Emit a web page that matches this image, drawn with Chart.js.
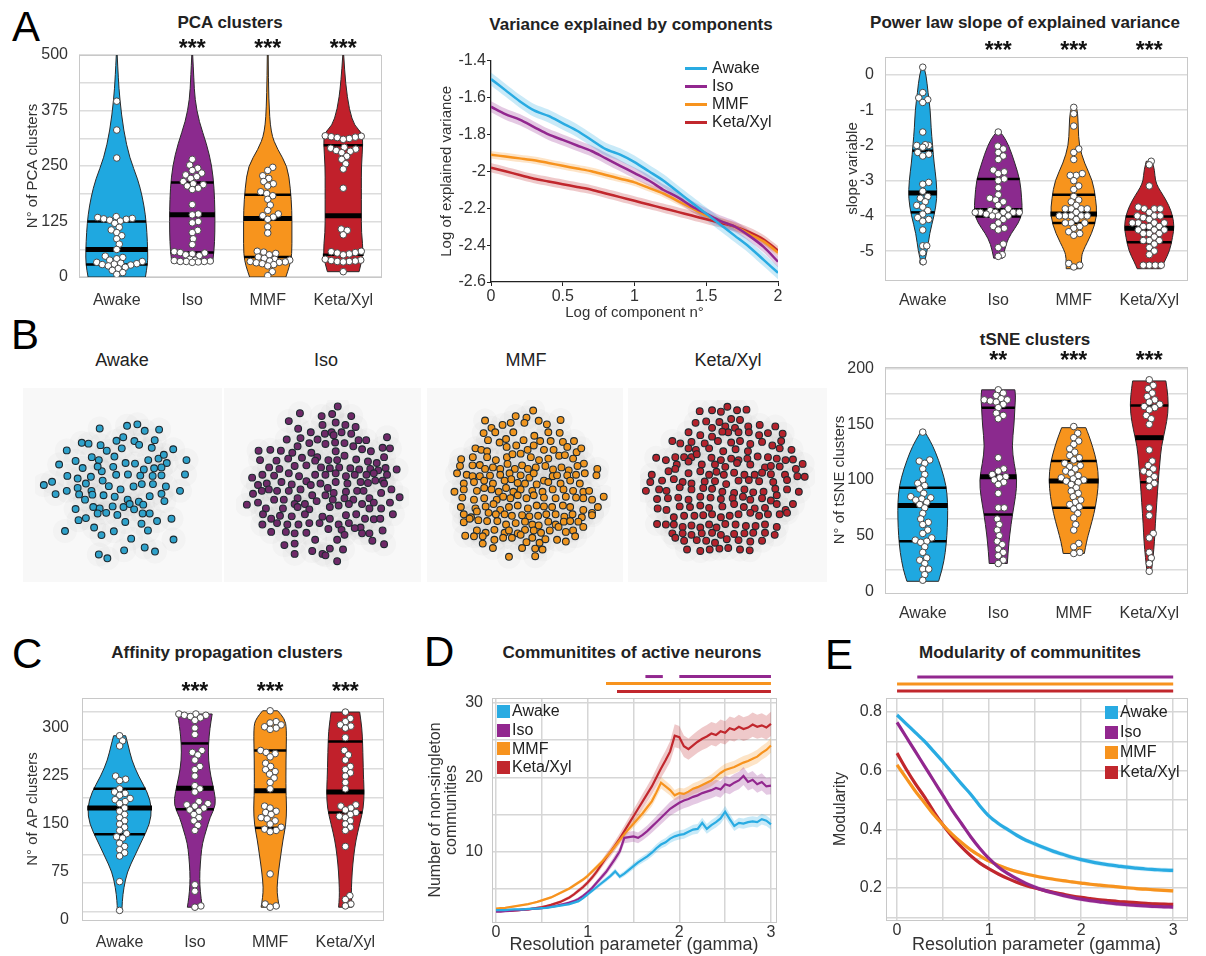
<!DOCTYPE html>
<html>
<head>
<meta charset="utf-8">
<title>Clusters and communities</title>
<script src="https://cdn.jsdelivr.net/npm/chart.js@4.4.1/dist/chart.umd.min.js"></script>
<style>
  body { margin: 0; background: #fff; font-family: 'Liberation Sans', Arial, sans-serif; }
  #fig { position: relative; width: 1206px; height: 956px; overflow: hidden; background: #fff; }
  #fig canvas { position: absolute; }
  .letter { position: absolute; font-size: 42px; line-height: 1; color: #000; }
  .ttl { position: absolute; font-size: 17px; font-weight: bold; color: #222; white-space: nowrap; transform: translate(-50%, -50%); }
  .sub { position: absolute; font-size: 18px; color: #222; white-space: nowrap; transform: translate(-50%, -50%); }
  .leg { position: absolute; font-size: 16px; color: #222; }
  .leg div { display: flex; align-items: center; white-space: nowrap; }
  canvas.tsne { background: #f8f8f8; }
</style>
</head>
<body>
<div id="fig">
  <div class="letter" style="left:12px;top:6px">A</div>
  <div class="letter" style="left:11px;top:314px">B</div>
  <div class="letter" style="left:12px;top:633px">C</div>
  <div class="letter" style="left:424px;top:631px">D</div>
  <div class="letter" style="left:825px;top:634px">E</div>

  <div class="ttl" style="left:230px;top:23px">PCA clusters</div>
  <div class="ttl" style="left:631px;top:25px">Variance explained by components</div>
  <div class="ttl" style="left:1025px;top:23px">Power law slope of explained variance</div>
  <div class="ttl" style="left:1035px;top:340px">tSNE clusters</div>
  <div class="ttl" style="left:227px;top:653px">Affinity propagation clusters</div>
  <div class="ttl" style="left:632px;top:653px">Communitites of active neurons</div>
  <div class="ttl" style="left:1030px;top:653px">Modularity of communitites</div>

  <div class="sub" style="left:122px;top:360px">Awake</div>
  <div class="sub" style="left:326px;top:360px">Iso</div>
  <div class="sub" style="left:526px;top:360px">MMF</div>
  <div class="sub" style="left:728px;top:360px">Keta/Xyl</div>

  <canvas id="cPca"></canvas>
  <canvas id="cVar"></canvas>
  <canvas id="cSlope"></canvas>
  <canvas id="tAwake" class="tsne"></canvas>
  <canvas id="tIso" class="tsne"></canvas>
  <canvas id="tMmf" class="tsne"></canvas>
  <canvas id="tKeta" class="tsne"></canvas>
  <canvas id="cTsne"></canvas>
  <canvas id="cAp"></canvas>
  <canvas id="cComm"></canvas>
  <canvas id="cMod"></canvas>
</div>
<script>
const groups = ['Awake', 'Iso', 'MMF', 'Keta/Xyl'];
const violinFill = ['#1fa8e0', '#8b2a8e', '#f7941d', '#c1202b'];
const lineColor = ['#29abe2', '#92278f', '#f7931e', '#c1272d'];
const tsneFill = ['#2fa2cb', '#6f2968', '#ef951f', '#b5232c'];

// ---- A: PCA clusters (violins)
const pcaStars = ['', '***', '***', '***'];
const pcaYTicks = [0, 125, 250, 375, 500];
const pcaYGrid = [0, 62.5, 125, 187.5, 250, 312.5, 375, 437.5, 500];
const pcaProfY = [
  [0, 30, 60, 100, 140, 180, 220, 268, 330, 400, 450, 500],
  [32, 60, 100, 150, 200, 250, 300, 350, 400, 450, 500],
  [0, 25, 50, 100, 150, 200, 250, 287, 324, 400, 500],
  [12, 50, 100, 150, 200, 250, 300, 325, 340, 376, 436, 500]
];
const pcaProfW = [
  [0.38, 0.41, 0.41, 0.40, 0.38, 0.34, 0.28, 0.17, 0.09, 0.04, 0.02, 0.006],
  [0.27, 0.29, 0.30, 0.30, 0.29, 0.26, 0.19, 0.09, 0.035, 0.02, 0.006],
  [0.24, 0.29, 0.32, 0.32, 0.32, 0.30, 0.26, 0.13, 0.04, 0.012, 0.006],
  [0.21, 0.27, 0.24, 0.24, 0.24, 0.24, 0.26, 0.25, 0.15, 0.08, 0.03, 0.006]
];
const pcaMed = [62, 140, 132, 138];
const pcaQ1 = [28, 55, 45, 50];
const pcaQ3 = [125, 213, 185, 297];
const pcaPts = [
  [396, 331, 268, 136, 134, 132, 131, 130, 128, 126, 121, 112, 106, 100, 93, 86, 74, 62, 47, 44, 41, 38, 35, 33, 31, 30, 29, 28, 27, 25, 22, 19, 15, 10, 6],
  [265, 252, 245, 240, 234, 230, 226, 222, 215, 210, 208, 205, 200, 197, 163, 142, 140, 125, 122, 105, 100, 86, 73, 57, 55, 54, 52, 50, 48, 40, 38, 37, 36, 35, 35, 35, 34, 33],
  [247, 240, 228, 222, 215, 210, 205, 192, 188, 183, 175, 162, 150, 142, 138, 135, 130, 113, 99, 58, 56, 53, 50, 45, 42, 40, 38, 36, 35, 34, 33, 32, 30, 28, 25, 12, 3],
  [318, 317, 316, 315, 314, 312, 310, 292, 290, 288, 285, 283, 280, 272, 265, 255, 243, 200, 108, 105, 95, 58, 57, 55, 54, 52, 50, 40, 38, 37, 36, 35, 35, 34, 12]
];

// ---- A: variance explained by components
const varX = [0, 0.1, 0.2, 0.3, 0.4, 0.5, 0.6, 0.7, 0.8, 0.9, 1.0, 1.1, 1.2, 1.3, 1.4, 1.5, 1.6, 1.7, 1.8, 1.9, 2.0];
const varAwake = [-1.5, -1.56, -1.62, -1.67, -1.7, -1.74, -1.78, -1.83, -1.88, -1.91, -1.95, -2.0, -2.05, -2.11, -2.17, -2.23, -2.29, -2.35, -2.41, -2.48, -2.55];
const varIso = [-1.65, -1.69, -1.72, -1.76, -1.8, -1.83, -1.86, -1.89, -1.93, -1.97, -2.01, -2.05, -2.1, -2.14, -2.19, -2.23, -2.27, -2.3, -2.35, -2.41, -2.49];
const varMmf = [-1.91, -1.92, -1.93, -1.94, -1.955, -1.97, -1.985, -2.0, -2.02, -2.04, -2.06, -2.09, -2.12, -2.16, -2.2, -2.24, -2.27, -2.3, -2.34, -2.38, -2.44];
const varKeta = [-1.98, -2.0, -2.02, -2.04, -2.055, -2.07, -2.085, -2.1, -2.12, -2.14, -2.16, -2.18, -2.2, -2.22, -2.24, -2.26, -2.28, -2.3, -2.33, -2.37, -2.43];
const varSem = [0.035, 0.03, 0.02, 0.025];
const varXTicks = [0, 0.5, 1, 1.5, 2];
const varYTicks = [-1.4, -1.6, -1.8, -2, -2.2, -2.4, -2.6];

// ---- A: power law slope (violins)
const slopeStars = ['', '***', '***', '***'];
const slopeYTicks = [0, -1, -2, -3, -4, -5];
const slopeProfY = [
  [-5.35, -5, -4.5, -4, -3.5, -3, -2.5, -2, -1.5, -1, -0.5, 0, 0.25],
  [-5.2, -4.8, -4.5, -4.2, -3.9, -3.5, -3, -2.5, -2, -1.7, -1.62],
  [-5.5, -5.2, -5, -4.5, -4, -3.5, -3, -2.5, -2, -1.5, -1, -0.9],
  [-5.5, -5.3, -5, -4.6, -4.3, -4, -3.7, -3.4, -3.2, -3, -2.7, -2.45]
];
const slopeProfW = [
  [0.02, 0.06, 0.09, 0.15, 0.19, 0.18, 0.15, 0.13, 0.11, 0.1, 0.07, 0.045, 0.01],
  [0.06, 0.1, 0.17, 0.27, 0.32, 0.31, 0.29, 0.22, 0.14, 0.06, 0.02],
  [0.1, 0.1, 0.12, 0.24, 0.31, 0.29, 0.25, 0.14, 0.07, 0.06, 0.05, 0.02],
  [0.16, 0.2, 0.27, 0.31, 0.33, 0.31, 0.26, 0.18, 0.12, 0.08, 0.07, 0.04]
];
const slopeMed = [-3.35, -3.85, -3.95, -4.35];
const slopeQ1 = [-3.9, -4.02, -4.2, -4.75];
const slopeQ3 = [-2.15, -2.95, -3.4, -4.02];
const slopePts = [
  [0.22, -0.5, -0.65, -0.7, -0.78, -1.62, -2.0, -2.0, -1.98, -2.05, -2.2, -2.25, -2.3, -3.05, -3.1, -3.3, -3.45, -3.5, -3.6, -3.7, -3.75, -3.85, -3.95, -4.05, -4.1, -4.15, -4.4, -4.85, -4.85, -5.05, -5.3, -5.3],
  [-1.62, -2.02, -2.1, -2.2, -2.3, -2.4, -2.7, -2.75, -2.8, -2.95, -3.0, -3.2, -3.4, -3.5, -3.55, -3.6, -3.7, -3.8, -3.85, -3.9, -3.9, -3.9, -3.9, -3.9, -3.9, -3.95, -4.0, -4.0, -4.0, -4.1, -4.2, -4.3, -4.35, -4.4, -4.8, -4.9, -5.1, -5.15],
  [-0.92, -1.1, -1.45, -2.1, -2.2, -2.4, -2.8, -2.85, -2.85, -3.0, -3.15, -3.25, -3.45, -3.55, -3.6, -3.7, -3.8, -3.8, -3.8, -3.8, -3.9, -4.0, -4.0, -4.0, -4.0, -4.0, -4.1, -4.2, -4.2, -4.2, -4.3, -4.35, -4.45, -4.5, -4.55, -5.35, -5.4, -5.45],
  [-2.45, -2.55, -3.15, -3.75, -3.8, -3.8, -3.8, -3.9, -4.0, -4.0, -4.0, -4.05, -4.1, -4.2, -4.2, -4.2, -4.2, -4.3, -4.3, -4.3, -4.4, -4.4, -4.4, -4.5, -4.5, -4.5, -4.6, -4.7, -4.7, -4.7, -4.8, -4.9, -5.0, -5.1, -5.4, -5.4, -5.4, -5.4]
];

// ---- B: tSNE embeddings (positions, picture units)
const tsneAwake = [
  [290,332],[383,323],[418,318],[443,340],[492,336],
  [229,381],[252,384],[293,389],[314,408],[347,374],[370,362],[408,375],[424,388],[477,372],[365,400],[467,398],[540,403],[178,407],
  [208,443],[263,430],[287,440],[340,428],[378,450],[410,452],[455,440],[490,435],[508,422],[518,450],[585,440],[152,455],
  [232,467],[297,478],[336,463],[440,472],[475,468],[500,465],[283,462],
  [180,494],[215,503],[260,497],[300,510],[346,490],[386,489],[428,493],[470,494],[500,492],[580,489],[128,514],[100,525],
  [140,556],[178,545],[215,535],[262,545],[321,529],[361,540],[405,530],[433,522],[471,522],[515,530],[563,545],[243,520],
  [220,557],[265,558],[303,560],[341,565],[385,575],[423,582],[460,563],[500,555],[510,580],
  [208,607],[240,575],[268,600],[290,605],[334,598],[371,600],[392,590],[438,592],
  [218,645],[243,638],[283,622],[312,620],[350,627],[377,651],[407,608],[436,622],[460,622],[534,640],[485,648],
  [172,682],[271,670],[296,696],[338,683],[432,657],[454,680],[397,708],[541,711],
  [373,748],[443,738],[478,752],[287,762],[316,775]
];
const tsneIso = [
  [1017,257],[888,280],[962,290],[998,283],[1063,290],[850,307],[965,320],[1010,312],[1043,320],[1078,327],
  [882,333],[925,345],[973,350],[996,345],[1030,345],[1063,350],[843,370],[890,365],[948,370],[1003,355],[1040,382],[1088,372],[1114,372],[1185,362],
  [920,382],[975,385],[1008,380],[1070,393],[1100,403],[1130,410],[1170,398],[1195,400],[747,408],[787,405],[823,408],[862,415],[880,393],
  [927,415],[947,430],[1010,410],[1040,425],[1175,430],[752,440],[808,442],[848,435],[895,432],[940,442],[985,440],[1015,440],[1080,438],[1120,445],[1150,450],
  [783,465],[818,470],[870,460],[910,458],[960,465],[990,468],[1022,465],[1060,468],[1090,472],[1128,470],[1155,475],[1180,467],[1218,472],[725,500],
  [760,490],[800,493],[850,485],[885,495],[910,512],[940,490],[975,490],[1010,485],[1045,495],[1075,490],[1115,490],[1140,485],[1185,490],[1145,510],[1170,510],
  [745,525],[775,520],[825,515],[860,523],[890,540],[925,525],[958,520],[983,535],[1010,515],[1050,520],[1095,515],[1120,518],[1175,520],[1200,540],[1228,567],
  [728,555],[758,545],[782,540],[810,545],[850,545],[880,570],[930,560],[975,560],[1003,552],[1045,548],[1083,545],[1105,545],[1165,552],[1125,570],[1000,575],[1040,570],[1070,575],
  [707,592],[745,585],[800,575],[833,575],[870,590],[905,590],[945,580],[1055,590],[1100,590],[1140,585],[1195,585],[772,605],[830,605],[880,600],[920,608],[990,600],[1020,595],[1125,605],[1165,605],[1205,625],
  [762,625],[790,640],[820,630],[860,632],[905,625],[965,633],[990,640],[1045,628],[1080,625],[1110,640],[1140,642],[1162,640],[760,660],
  [810,655],[845,660],[883,660],[920,655],[955,655],[1020,660],[1055,655],[1095,670],[1170,680],[790,685],[840,685],[870,690],[910,688],[985,675],[1030,678],[1040,695],[1075,672],[1100,690],[1125,690],
  [940,712],[1135,715],[870,725],[1015,712],[835,730],[1175,727],[930,750],[965,760],[990,742],[1035,745],[870,760],[975,765],[1015,785]
];
const tsneMmf = [
  [343,271],[283,290],[320,295],[178,305],[238,320],[266,313],[313,313],[362,306],[437,303],[200,330],[390,318],
  [173,348],[213,345],[275,345],[347,357],[395,345],[434,347],[188,372],[228,380],[250,368],[310,372],[367,375],[403,375],[445,378],[483,375],[460,395],
  [145,400],[165,405],[185,410],[252,395],[285,390],[324,405],[345,390],[380,405],[413,405],[432,425],[492,413],[508,400],[96,437],[136,430],[185,430],[215,440],[253,430],[272,420],[300,418],[335,430],[363,440],[395,435],[452,423],[480,435],[517,452],
  [92,460],[135,458],[160,457],[178,470],[205,465],[230,470],[255,453],[280,470],[305,458],[325,470],[352,465],[385,460],[411,472],[440,465],[465,475],[495,460],[563,470],[560,492],[82,485],[115,490],
  [135,495],[160,495],[195,493],[230,490],[262,485],[300,492],[330,500],[345,485],[380,510],[410,495],[425,492],[460,492],[490,490],[520,485],[105,520],[140,515],[175,510],[205,520],[245,510],[268,505],[290,518],[315,520],[355,523],[395,515],[437,520],[470,510],[503,520],
  [73,548],[105,540],[150,545],[175,535],[200,540],[225,548],[250,535],[275,548],[300,540],[340,545],[375,548],[410,540],[447,540],[480,545],[515,548],[535,545],[585,565],[100,568],[140,575],[175,570],[218,575],[240,565],[265,570],[290,560],[320,570],[345,560],[380,568],[420,570],[455,565],[490,568],[515,570],[545,575],
  [95,600],[145,605],[180,598],[207,590],[230,610],[260,600],[290,595],[325,605],[355,595],[380,598],[408,600],[445,595],[470,600],[515,610],[545,620],[565,600],[105,625],[130,635],[150,615],[190,620],[215,625],[245,625],[270,630],[305,628],[330,632],[360,630],[388,625],[420,625],[450,633],[478,625],[510,635],
  [105,652],[125,640],[155,645],[185,648],[220,648],[250,660],[283,655],[315,650],[340,660],[362,663],[395,650],[420,660],[448,650],[470,648],[498,650],[545,628],[515,668],[150,680],[180,688],[210,678],[245,688],[260,680],[290,690],[315,678],[345,680],[370,688],[400,680],[430,668],[455,685],[480,680],
  [110,698],[140,700],[170,700],[210,712],[240,705],[270,705],[300,695],[320,720],[340,705],[365,722],[385,710],[425,712],[455,718],[487,700],[205,740],[170,725],[305,740],[350,742],[375,745],[260,770],[350,768]
];
const tsneKeta = [
  [922,258],[828,273],[870,270],[900,275],[955,270],[987,268],[965,303],[814,313],[850,308],[895,310],[935,300],[993,325],[1032,320],[1085,325],
  [870,330],[915,325],[948,330],[925,345],[790,345],[830,355],[870,360],[905,343],[960,345],[995,345],[1030,355],[1060,348],[1105,375],[1110,350],
  [735,375],[762,383],[800,378],[845,383],[890,375],[935,380],[965,375],[1000,385],[1040,378],[1075,390],[1100,400],[1140,405],[790,400],[815,405],[860,400],[908,410],[950,403],[992,410],
  [680,432],[713,440],[745,430],[775,430],[800,430],[818,420],[868,432],[900,440],[935,435],[960,440],[990,435],[1025,428],[1060,430],[1090,435],[1120,440],[1145,438],[1178,453],[750,455],[790,445],[835,455],[880,455],[915,463],[955,450],[1000,455],[1050,465],[1070,460],[1100,462],[1155,470],
  [665,490],[722,478],[745,470],[790,485],[830,478],[860,490],[885,480],[910,490],[945,483],[980,490],[1015,490],[1040,483],[1070,488],[1118,490],[1160,495],[1185,497],[660,515],[700,510],[740,505],[770,515],[800,520],[845,513],[880,512],[918,522],[960,510],[995,508],[1030,512],[1078,515],[1125,508],
  [645,545],[690,540],[715,545],[760,533],[800,540],[840,535],[870,538],[905,548],[945,552],[980,540],[1010,550],[1045,548],[1085,538],[1125,540],[1165,548],[683,573],[720,570],[755,568],[790,575],[830,565],[865,568],[900,573],[940,570],[975,565],[1000,575],[1040,570],[1070,578],[1090,560],[1145,590],
  [685,605],[715,610],[760,598],[795,600],[830,595],[860,603],[905,598],[945,590],[978,600],[1015,605],[1050,603],[1090,590],[1120,610],[740,635],[775,630],[810,630],[840,628],[870,625],[900,635],[930,630],[960,625],[1000,620],[1030,630],[1060,625],[1100,625],[1125,620],
  [683,658],[713,660],[740,660],[770,668],[800,663],[830,670],[860,660],[885,670],[915,658],[950,660],[985,665],[1018,665],[1050,660],[1090,668],[735,690],[770,690],[800,695],[835,690],[870,688],[900,695],[945,692],[980,690],[1010,688],[1050,688],[1083,695],
  [745,705],[775,715],[818,713],[850,715],[880,722],[920,710],[960,713],[1000,718],[1040,715],[785,745],[830,750],[862,745],[895,742],[925,740],[965,745],[998,748]
];

// ---- B: tSNE clusters (violins)
const tsneStars = ['', '**', '***', '***'];
const tsneYTicks = [0, 50, 100, 150, 200];
const tsneYGrid = [19.6, 42, 65, 87.5, 110, 132, 155, 177.5, 200];
const tsneProfY = [
  [9, 20, 35, 50, 65, 80, 95, 110, 125, 135, 143],
  [25, 35, 50, 70, 85, 100, 115, 130, 150, 165, 175, 181],
  [34, 45, 55, 70, 85, 100, 115, 130, 140, 147],
  [18, 30, 45, 60, 80, 100, 115, 130, 145, 160, 175, 189]
];
const tsneProfW = [
  [0.21, 0.26, 0.3, 0.32, 0.33, 0.33, 0.31, 0.25, 0.17, 0.1, 0.03],
  [0.12, 0.13, 0.15, 0.19, 0.23, 0.25, 0.21, 0.18, 0.21, 0.22, 0.23, 0.22],
  [0.14, 0.17, 0.21, 0.27, 0.31, 0.33, 0.31, 0.25, 0.2, 0.16],
  [0.03, 0.05, 0.07, 0.08, 0.1, 0.12, 0.14, 0.16, 0.21, 0.25, 0.25, 0.22]
];
const tsneMed = [77, 103, 99, 138];
const tsneQ1 = [45, 69, 75, 98];
const tsneQ3 = [93, 165, 117, 167];
const tsnePts = [
  [143, 118, 117, 115, 110, 105, 100, 97, 95, 92, 88, 85, 84, 83, 82, 80, 78, 75, 70, 65, 62, 60, 55, 52, 48, 46, 45, 44, 40, 35, 30, 28, 25, 20, 20, 15, 10],
  [181, 178, 176, 173, 172, 172, 171, 170, 168, 165, 160, 158, 155, 120, 110, 108, 105, 103, 102, 100, 98, 96, 88, 75, 75, 65, 60, 55, 50, 45, 42, 38, 35, 32, 28, 25],
  [148, 142, 138, 135, 132, 128, 125, 122, 120, 118, 115, 113, 112, 110, 108, 106, 104, 102, 101, 100, 99, 98, 96, 93, 90, 88, 85, 82, 80, 78, 76, 74, 70, 66, 60, 55, 43, 40, 35, 34],
  [190, 185, 182, 178, 175, 172, 170, 168, 166, 165, 163, 158, 155, 150, 127, 117, 113, 110, 108, 106, 103, 100, 97, 94, 75, 68, 52, 48, 35, 30, 25, 18]
];

// ---- C: affinity propagation clusters (violins)
const apStars = ['', '***', '***', '***'];
const apYTicks = [0, 75, 150, 225, 300];
const apYGrid = [12.5, 58, 102, 147, 191, 236, 281, 325];
const apProfY = [
  [15, 30, 50, 75, 100, 125, 150, 175, 200, 225, 250, 275, 288],
  [20, 35, 55, 75, 100, 120, 140, 160, 180, 200, 225, 250, 275, 300, 322],
  [20, 35, 50, 75, 100, 125, 150, 175, 200, 250, 300, 315, 327],
  [20, 35, 50, 75, 100, 125, 150, 175, 200, 225, 275, 300, 325]
];
const apProfW = [
  [0.03, 0.035, 0.055, 0.1, 0.2, 0.3, 0.4, 0.43, 0.37, 0.25, 0.16, 0.11, 0.08],
  [0.1, 0.08, 0.065, 0.065, 0.08, 0.1, 0.15, 0.2, 0.28, 0.26, 0.21, 0.18, 0.18, 0.2, 0.23],
  [0.12, 0.1, 0.09, 0.11, 0.14, 0.17, 0.21, 0.22, 0.21, 0.21, 0.22, 0.19, 0.1],
  [0.09, 0.08, 0.08, 0.09, 0.11, 0.14, 0.19, 0.24, 0.25, 0.24, 0.23, 0.22, 0.19]
];
const apMed = [175, 206, 202, 200];
const apQ1 = [134, 173, 144, 168];
const apQ3 = [205, 276, 265, 279];
const apPts = [
  [288, 280, 272, 225, 220, 218, 205, 200, 198, 195, 190, 188, 185, 182, 175, 170, 165, 160, 155, 150, 145, 140, 135, 130, 128, 120, 115, 110, 105, 100, 60, 15],
  [322, 322, 320, 320, 318, 316, 312, 300, 290, 265, 262, 258, 250, 240, 235, 225, 210, 205, 200, 185, 182, 180, 178, 175, 172, 170, 165, 160, 155, 148, 140, 55, 45, 22, 20],
  [327, 310, 308, 305, 302, 300, 298, 265, 262, 260, 255, 245, 240, 235, 232, 228, 222, 215, 205, 178, 175, 170, 168, 165, 160, 158, 155, 150, 145, 142, 140, 138, 72, 25, 22, 20],
  [325, 315, 310, 305, 303, 300, 285, 265, 258, 250, 240, 235, 230, 225, 215, 205, 180, 178, 175, 172, 168, 165, 162, 160, 155, 150, 145, 140, 115, 38, 32, 25, 22]
];

// ---- D: communities of active neurons
const gammaD = [0, 0.05, 0.1, 0.15, 0.2, 0.25, 0.3, 0.35, 0.4, 0.45, 0.5, 0.55, 0.6, 0.65, 0.7, 0.75, 0.8, 0.85, 0.9, 0.95,
  1, 1.05, 1.1, 1.15, 1.2, 1.25, 1.3, 1.35, 1.4, 1.45, 1.5, 1.55, 1.6, 1.65, 1.7, 1.75, 1.8, 1.85, 1.9, 1.95,
  2, 2.05, 2.1, 2.15, 2.2, 2.25, 2.3, 2.35, 2.4, 2.45, 2.5, 2.55, 2.6, 2.65, 2.7, 2.75, 2.8, 2.85, 2.9, 2.95, 3];
const commAwake = [2.2, 2.2, 2.2, 2.25, 2.3, 2.3, 2.3, 2.35, 2.4, 2.4, 2.45, 2.5, 2.6, 2.7, 2.8, 2.9, 3.0, 3.2, 3.4, 3.8,
  4.3, 4.8, 5.3, 5.8, 6.3, 6.8, 7.4, 6.7, 7.1, 7.6, 8.1, 8.6, 9.0, 9.4, 9.9, 10.5, 11.0, 11.3, 11.8, 12.1,
  12.3, 12.4, 12.7, 13.0, 13.1, 13.9, 13.1, 13.6, 14.0, 14.5, 15.4, 14.4, 13.5, 13.9, 13.8, 14.0, 14.1, 14.0, 14.4, 14.2, 13.7];
const commIso = [2.0, 2.0, 2.05, 2.1, 2.15, 2.2, 2.25, 2.3, 2.35, 2.4, 2.45, 2.55, 2.65, 2.75, 2.9, 3.05, 3.2, 3.4, 3.7, 4.1,
  4.6, 5.2, 5.9, 6.6, 7.3, 8.2, 9.1, 10.1, 11.9, 12.0, 12.1, 11.9, 12.3, 12.8, 13.4, 14.0, 14.6, 15.2, 15.8, 16.2,
  16.6, 16.9, 17.1, 17.4, 17.6, 17.9, 18.1, 18.3, 18.6, 18.4, 19.1, 18.9, 19.3, 19.6, 20.2, 19.4, 19.7, 19.1, 19.4, 18.8, 18.9];
const commMmf = [2.4, 2.45, 2.5, 2.6, 2.7, 2.8, 2.9, 3.0, 3.15, 3.3, 3.5, 3.7, 3.9, 4.2, 4.5, 4.8, 5.1, 5.5, 5.9, 6.3,
  6.8, 7.4, 8.0, 8.6, 9.3, 10.0, 10.8, 11.6, 12.4, 13.1, 13.8, 14.5, 15.2, 16.0, 16.8, 18.0, 19.3, 18.8, 18.3, 17.6,
  17.9, 17.8, 18.1, 18.5, 18.7, 19.0, 19.3, 19.6, 20.1, 20.6, 21.0, 21.2, 21.4, 21.7, 22.0, 22.2, 22.5, 22.8, 23.3, 23.7, 24.3];
const commKeta = [2.1, 2.1, 2.1, 2.1, 2.15, 2.2, 2.25, 2.3, 2.4, 2.5, 2.6, 2.75, 2.9, 3.1, 3.3, 3.6, 3.9, 4.3, 4.8, 5.3,
  5.9, 6.6, 7.4, 8.3, 9.2, 10.0, 10.9, 11.8, 12.8, 13.8, 14.8, 15.8, 16.8, 17.8, 18.8, 20.0, 21.2, 22.3, 23.5, 25.6,
  25.4, 24.2, 23.8, 24.3, 24.8, 25.2, 25.5, 25.9, 25.7, 26.2, 26.0, 26.6, 26.4, 26.8, 26.5, 26.7, 27.1, 26.8, 27.0, 26.7, 27.2];
const commSemRatio = [0.05, 0.06, 0.04, 0.06];
const commSig = [[1, 1.63, 1.82], [1, 2.0, 3.0], [2, 1.2, 3.0], [3, 1.32, 3.0]]; // [group, from, to]
const commXTicks = [0, 1, 2, 3];
const commXGrid = [0, 0.5, 1, 1.5, 2, 2.5, 3];
const commYTicks = [10, 20, 30];
const commYGrid = [5, 10, 15, 20, 25, 30];

// ---- E: modularity of communities
const gammaE = [0, 0.1, 0.2, 0.3, 0.4, 0.5, 0.6, 0.7, 0.8, 0.9, 1, 1.1, 1.2, 1.3, 1.4, 1.5, 1.6, 1.7, 1.8, 1.9,
  2, 2.1, 2.2, 2.3, 2.4, 2.5, 2.6, 2.7, 2.8, 2.9, 3];
const modAwake = [0.79, 0.76, 0.73, 0.70, 0.665, 0.63, 0.592, 0.555, 0.52, 0.48, 0.445, 0.42, 0.4, 0.38, 0.363, 0.35,
  0.337, 0.325, 0.315, 0.305, 0.297, 0.29, 0.284, 0.279, 0.275, 0.271, 0.268, 0.265, 0.263, 0.261, 0.26];
const modIso = [0.765, 0.715, 0.665, 0.615, 0.565, 0.515, 0.465, 0.42, 0.375, 0.335, 0.3, 0.272, 0.25, 0.232, 0.216, 0.203,
  0.192, 0.183, 0.175, 0.168, 0.162, 0.157, 0.153, 0.149, 0.146, 0.143, 0.141, 0.139, 0.137, 0.136, 0.135];
const modMmf = [0.62, 0.575, 0.53, 0.49, 0.45, 0.415, 0.383, 0.355, 0.33, 0.31, 0.292, 0.278, 0.266, 0.256, 0.248, 0.241,
  0.235, 0.23, 0.225, 0.221, 0.217, 0.213, 0.21, 0.207, 0.204, 0.201, 0.198, 0.196, 0.194, 0.192, 0.19];
const modKeta = [0.66, 0.605, 0.555, 0.51, 0.46, 0.415, 0.375, 0.34, 0.31, 0.285, 0.265, 0.248, 0.233, 0.22, 0.209, 0.2,
  0.192, 0.185, 0.179, 0.173, 0.168, 0.164, 0.16, 0.157, 0.154, 0.152, 0.15, 0.148, 0.146, 0.145, 0.144];
const modSem = [0.008, 0.007, 0.006, 0.006];
const modSig = [[1, 0.22, 3.0], [2, 0, 3.0], [3, 0, 3.0]];
const modXTicks = [0, 1, 2, 3];
const modXGrid = [0, 0.5, 1, 1.5, 2, 2.5, 3];
const modYTicks = [0.2, 0.4, 0.6, 0.8];
const modYGrid = [0.1, 0.2, 0.3, 0.4, 0.5, 0.6, 0.7, 0.8];

// ---------------------------------------------------------------
Chart.defaults.font.family = "'Liberation Sans', Arial, Helvetica, sans-serif";
Chart.defaults.font.size = 16;
Chart.defaults.color = '#333';
Chart.defaults.animation = false;
Chart.defaults.responsive = false;
Chart.defaults.maintainAspectRatio = false;
Chart.defaults.plugins.legend.display = false;
Chart.defaults.plugins.tooltip.enabled = false;

function place(id, l, t, w, h) {
  const c = document.getElementById(id);
  c.width = w; c.height = h;
  c.style.left = l + 'px'; c.style.top = t + 'px';
  return c;
}

const setTicks = arr => axis => { axis.ticks = arr.map(v => ({ value: v })); };
const near = (arr, v) => arr.some(t => Math.abs(t - v) < 1e-6);

function rgba(hex, a) {
  const n = parseInt(hex.slice(1), 16);
  return `rgba(${n >> 16}, ${(n >> 8) & 255}, ${n & 255}, ${a})`;
}

// beeswarm offsets (pixels): nearest free spot to the centre, kept inside the violin
function swarm(vals, pxY, d, limit) {
  const placed = [], off = new Array(vals.length);
  const order = vals.map((v, i) => i).sort((a, b) => vals[a] - vals[b]);
  order.forEach(i => {
    const y = vals[i] * pxY;
    const lim = Math.max(0, limit(vals[i]));
    const close = placed.filter(p => Math.abs(p.y - y) < d);
    let pick = null, best = 0, bestGap = -1;
    for (let s = 0; s <= lim && pick === null; s += 0.5) {
      for (const x of (s ? [s, -s] : [0])) {
        const gap = close.reduce((m, p) => Math.min(m, Math.hypot(p.x - x, p.y - y)), Infinity);
        if (gap >= d) { pick = x; break; }
        if (gap > bestGap) { bestGap = gap; best = x; }
      }
    }
    const x = pick === null ? best : pick;
    placed.push({ x, y });
    off[i] = x;
  });
  return off;
}

function widthAt(ys, ws, v) {
  if (v <= ys[0]) return ws[0];
  for (let k = 1; k < ys.length; k++) {
    if (v <= ys[k]) {
      const f = (v - ys[k - 1]) / (ys[k] - ys[k - 1]);
      return ws[k - 1] + f * (ws[k] - ws[k - 1]);
    }
  }
  return ws[ws.length - 1];
}

function smoothPath(ctx, p, first) {
  if (first) ctx.moveTo(p[0][0], p[0][1]); else ctx.lineTo(p[0][0], p[0][1]);
  for (let k = 1; k < p.length - 1; k++) {
    ctx.quadraticCurveTo(p[k][0], p[k][1], (p[k][0] + p[k + 1][0]) / 2, (p[k][1] + p[k + 1][1]) / 2);
  }
  ctx.lineTo(p[p.length - 1][0], p[p.length - 1][1]);
}

function violinPlugin(o) {
  return {
    id: 'violins',
    beforeDatasetsDraw(chart) {
      const { ctx, chartArea: a, scales: { x, y } } = chart;
      ctx.save();
      ctx.beginPath();
      ctx.rect(a.left, a.top, a.right - a.left, a.bottom - a.top);
      ctx.clip();
      o.profY.forEach((ys, i) => {
        const ws = o.profW[i];
        const right = ys.map((v, k) => [x.getPixelForValue(i + ws[k]), y.getPixelForValue(v)]);
        const left = ys.map((v, k) => [x.getPixelForValue(i - ws[k]), y.getPixelForValue(v)]).reverse();
        ctx.beginPath();
        smoothPath(ctx, right, true);
        smoothPath(ctx, left, false);
        ctx.closePath();
        ctx.fillStyle = violinFill[i];
        ctx.fill();
        ctx.strokeStyle = '#2a2a2a';
        ctx.lineWidth = 1;
        ctx.stroke();
        [[o.q1[i], 2.5], [o.q3[i], 2.5], [o.med[i], 5]].forEach(([v, lw]) => {
          const w = widthAt(ys, ws, v);
          const py = y.getPixelForValue(v);
          ctx.beginPath();
          ctx.moveTo(x.getPixelForValue(i - w), py);
          ctx.lineTo(x.getPixelForValue(i + w), py);
          ctx.strokeStyle = '#000';
          ctx.lineWidth = lw;
          ctx.stroke();
        });
      });
      ctx.restore();
    }
  };
}

function violinChart(id, o) {
  const [cl, ct, cw, ch] = o.canvas;
  const [pl, pt, pr, pb] = o.plot;
  const cv = place(id, cl, ct, cw, ch);
  const pxX = (pr - pl) / 4, pxY = (pb - pt) / (o.yMax - o.yMin);
  const pts = [];
  o.pts.forEach((vals, i) => {
    const off = swarm(vals, pxY, 5.8, v => widthAt(o.profY[i], o.profW[i], v) * pxX - 1);
    vals.forEach((v, k) => pts.push({ x: i + off[k] / pxX, y: v }));
  });
  const catAxis = { type: 'linear', min: -0.5, max: 3.5, afterBuildTicks: setTicks([0, 1, 2, 3]), grid: { display: false }, border: { color: '#c8c8c8' } };
  return new Chart(cv, {
    type: 'scatter',
    data: { datasets: [{ data: pts, pointRadius: 3.3, pointBackgroundColor: '#fff', pointBorderColor: '#4a4a4a', pointBorderWidth: 1 }] },
    options: {
      layout: { padding: { right: cl + cw - pr, left: 0, top: 0, bottom: 0 } },
      scales: {
        x: { ...catAxis, position: 'bottom',
          ticks: { callback: (v, i) => groups[i], padding: o.labelPad, autoSkip: false, maxRotation: 0, color: '#333' },
          afterFit: s => { s.height = ct + ch - pb; } },
        xt: { ...catAxis, position: 'top',
          ticks: { callback: (v, i) => o.stars[i], padding: -16, autoSkip: false, maxRotation: 0, color: '#111', font: { size: 23, weight: 'bold' } },
          afterFit: s => { s.height = pt - ct; } },
        y: { min: o.yMin, max: o.yMax, afterBuildTicks: setTicks(o.yTicks),
          ticks: { callback: v => String(v), padding: o.tickPad, autoSkip: false },
          grid: { display: false }, border: { color: '#c8c8c8' },
          title: { display: true, text: o.yTitle, font: { size: 15 }, color: '#333', padding: 0 },
          afterFit: s => { s.width = pl - cl; } },
        yg: { position: 'left', min: o.yMin, max: o.yMax, afterBuildTicks: setTicks(o.yGrid),
          ticks: { display: false }, grid: { color: '#dcdcdc', lineWidth: 1.5, drawTicks: false },
          border: { display: false }, afterFit: s => { s.width = 0; } },
        yr: { position: 'right', min: o.yMin, max: o.yMax, ticks: { display: false }, grid: { display: false },
          border: { color: '#c8c8c8' }, afterFit: s => { s.width = 0; } }
      }
    },
    plugins: [violinPlugin(o)]
  });
}

// a mean line with its shaded error band (upper, lower, line)
function bandSets(xs, ys, sem, color, width, tension, alpha) {
  const up = xs.map((x, k) => ({ x, y: ys[k] + sem(k) }));
  const lo = xs.map((x, k) => ({ x, y: ys[k] - sem(k) }));
  return [
    { data: up, borderWidth: 0, pointRadius: 0, fill: '+1', backgroundColor: rgba(color, alpha), tension, order: 2 },
    { data: lo, borderWidth: 0, pointRadius: 0, fill: false, tension, order: 2 },
    { data: xs.map((x, k) => ({ x, y: ys[k] })), borderColor: color, borderWidth: width, pointRadius: 0, fill: false, tension, order: 1 }
  ];
}

function sigSets(bars, yRows) {
  return bars.map(([g, a, b]) => ({
    data: [{ x: a, y: yRows[g] }, { x: b, y: yRows[g] }],
    borderColor: lineColor[g], borderWidth: 3, pointRadius: 0, fill: false, clip: false, order: 0
  }));
}

function legend(left, top, rowH, mark) {
  const box = document.createElement('div');
  box.className = 'leg';
  box.style.left = left + 'px';
  box.style.top = top + 'px';
  groups.forEach((g, i) => {
    const row = document.createElement('div');
    row.style.height = rowH + 'px';
    const m = document.createElement('span');
    m.style.display = 'inline-block';
    m.style.background = lineColor[i];
    if (mark === 'line') { m.style.width = '22px'; m.style.height = '3px'; m.style.marginRight = '5px'; }
    else { m.style.width = '13px'; m.style.height = '13px'; m.style.marginRight = '2px'; }
    row.appendChild(m);
    row.appendChild(document.createTextNode(g));
    box.appendChild(row);
  });
  document.getElementById('fig').appendChild(box);
}

// ---- A left: PCA clusters
violinChart('cPca', {
  canvas: [24, 28, 376, 284], plot: [79, 55, 381, 277], yMin: 0, yMax: 500,
  yTicks: pcaYTicks, yGrid: pcaYGrid, yTitle: 'N° of PCA clusters', stars: pcaStars,
  profY: pcaProfY, profW: pcaProfW, med: pcaMed, q1: pcaQ1, q3: pcaQ3, pts: pcaPts, labelPad: 6, tickPad: 3
});

// ---- A middle: variance explained
(function () {
  const series = [varAwake, varIso, varMmf, varKeta];
  const ds = [];
  series.forEach((ys, i) => ds.push(...bandSets(varX, ys, () => varSem[i], lineColor[i], 2.5, 0.3, 0.25)));
  const axisCommon = { grid: { drawOnChartArea: false, drawTicks: true, tickLength: 4, color: '#222' }, border: { color: '#222', width: 1.3 } };
  new Chart(place('cVar', 438, 50, 362, 272), {
    type: 'line',
    data: { datasets: ds },
    options: {
      layout: { padding: { top: 9, right: 22, left: 0, bottom: 0 } },
      scales: {
        x: { type: 'linear', min: 0, max: 2, afterBuildTicks: setTicks(varXTicks), ...axisCommon,
          ticks: { callback: v => String(v), padding: 1, maxRotation: 0, autoSkip: false },
          title: { display: true, text: 'Log of component n°', font: { size: 15 }, color: '#333', padding: 0 },
          afterFit: s => { s.height = 40; } },
        y: { min: -2.6, max: -1.4, afterBuildTicks: setTicks(varYTicks), ...axisCommon,
          ticks: { callback: v => String(v), padding: 1, autoSkip: false },
          title: { display: true, text: 'Log of explained variance', font: { size: 15 }, color: '#333', padding: 0 },
          afterFit: s => { s.width = 53; } }
      }
    }
  });
  legend(685, 59, 18, 'line');
})();

// ---- A right: power law slope
violinChart('cSlope', {
  canvas: [844, 28, 356, 284], plot: [885, 57, 1187, 280], yMin: -5.82, yMax: 0.51,
  yTicks: slopeYTicks, yGrid: slopeYTicks, yTitle: 'slope variable', stars: slopeStars,
  profY: slopeProfY, profW: slopeProfW, med: slopeMed, q1: slopeQ1, q3: slopeQ3, pts: slopePts, labelPad: 3, tickPad: 3
});

// ---- B: tSNE embeddings
function tsneChart(id, box, pts, range, i) {
  const [l, t, w, h] = box;
  const data = pts.map(p => ({ x: p[0], y: p[1] }));
  new Chart(place(id, l, t, w, h), {
    type: 'scatter',
    data: { datasets: [
      { data, pointRadius: 3.4, pointBackgroundColor: tsneFill[i], pointBorderColor: '#1e2a30', pointBorderWidth: 1.1, order: 1 },
      { data, pointRadius: 12, pointBackgroundColor: 'rgba(90,90,90,0.028)', pointBorderWidth: 0, order: 2 }
    ] },
    options: {
      layout: { padding: 0 },
      scales: {
        x: { display: false, min: range[0], max: range[1] },
        y: { display: false, min: range[2], max: range[3], reverse: true }
      }
    }
  });
}
tsneChart('tAwake', [23, 388, 199, 194], tsneAwake, [70, 665, 235, 815], 0);
tsneChart('tIso', [224, 388, 197, 194], tsneIso, [670, 1260, 235, 815], 1);
tsneChart('tMmf', [427, 388, 196, 194], tsneMmf, [20, 610, 235, 815], 2);
tsneChart('tKeta', [628, 388, 199, 194], tsneKeta, [625, 1220, 235, 815], 3);

// ---- B right: tSNE clusters
violinChart('cTsne', {
  canvas: [831, 340, 369, 280], plot: [885, 367, 1187, 593], yMin: -1.5, yMax: 201.5,
  yTicks: tsneYTicks, yGrid: tsneYGrid, yTitle: 'N° of tSNE clusters', stars: tsneStars,
  profY: tsneProfY, profW: tsneProfW, med: tsneMed, q1: tsneQ1, q3: tsneQ3, pts: tsnePts, labelPad: 3, tickPad: 3
});

// ---- C: affinity propagation clusters
violinChart('cAp', {
  canvas: [24, 670, 376, 280], plot: [82, 698, 383, 920], yMin: 0, yMax: 347,
  yTicks: apYTicks, yGrid: apYGrid, yTitle: 'N° of AP clusters', stars: apStars,
  profY: apProfY, profW: apProfW, med: apMed, q1: apQ1, q3: apQ3, pts: apPts, labelPad: 5, tickPad: 5
});

// shared box-style axes for D and E
function boxAxes(o) {
  return {
    x: { type: 'linear', min: o.xMin, max: o.xMax, afterBuildTicks: setTicks(o.xGrid),
      ticks: { callback: v => near(o.xTicks, v) ? String(v) : '', padding: 1, maxRotation: 0, autoSkip: false },
      grid: { color: '#d6d6d6', lineWidth: 1.5, drawTicks: false }, border: { color: '#c8c8c8' },
      title: { display: true, text: 'Resolution parameter (gamma)', font: { size: 18 }, color: '#333', padding: 0 },
      afterFit: s => { s.height = o.xH; } },
    xt: { type: 'linear', position: 'top', min: o.xMin, max: o.xMax, ticks: { display: false }, grid: { display: false },
      border: { color: '#c8c8c8' }, afterFit: s => { s.height = o.topH; } },
    y: { min: o.yMin, max: o.yMax, afterBuildTicks: setTicks(o.yGrid),
      ticks: { callback: v => near(o.yTicks, v) ? o.fmt(v) : '', padding: o.tickPad, autoSkip: false },
      grid: { color: '#d6d6d6', lineWidth: 1.5, drawTicks: false }, border: { color: '#c8c8c8' },
      title: { display: true, text: o.yTitle, font: { size: 16, lineHeight: 1.0 }, color: '#333', padding: 0 },
      afterFit: s => { s.width = o.yW; } },
    yr: { position: 'right', min: o.yMin, max: o.yMax, ticks: { display: false }, grid: { display: false },
      border: { color: '#c8c8c8' }, afterFit: s => { s.width = 0; } }
  };
}

// ---- D: communities
(function () {
  const series = [commAwake, commIso, commMmf, commKeta];
  const ds = [];
  series.forEach((ys, i) => ds.push(...bandSets(gammaD, ys, k => ys[k] * commSemRatio[i], lineColor[i], 2.2, 0, 0.25)));
  ds.push(...sigSets(commSig, [0, 33.55, 32.6, 31.54]));
  new Chart(place('cComm', 428, 660, 372, 296), {
    type: 'line',
    data: { datasets: ds },
    options: {
      layout: { padding: { right: 24, left: 0, top: 0, bottom: 0 } },
      scales: boxAxes({ xMin: -0.044, xMax: 3.055, xGrid: commXGrid, xTicks: commXTicks, xH: 34, topH: 38,
        yMin: 0.6, yMax: 30.67, yGrid: commYGrid, yTicks: commYTicks, fmt: v => String(v), tickPad: 9,
        yTitle: ['Number of non-singleton', 'communities'], yW: 64 })
    }
  });
  legend(497, 702, 18.7, 'box');
})();

// ---- E: modularity
(function () {
  const series = [modAwake, modIso, modMmf, modKeta];
  const ds = [];
  series.forEach((ys, i) => ds.push(...bandSets(gammaE, ys, () => modSem[i], lineColor[i], 3.2, 0.3, 0.22)));
  ds.push(...sigSets(modSig, [0, 0.92, 0.896, 0.872]));
  new Chart(place('cMod', 833, 660, 373, 296), {
    type: 'line',
    data: { datasets: ds },
    options: {
      layout: { padding: { right: 19, left: 0, top: 0, bottom: 0 } },
      scales: boxAxes({ xMin: -0.12, xMax: 3.15, xGrid: modXGrid, xTicks: modXTicks, xH: 36, topH: 38,
        yMin: 0.091, yMax: 0.848, yGrid: modYGrid, yTicks: modYTicks, fmt: v => v.toFixed(1), tickPad: 4,
        yTitle: 'Modularity', yW: 53 })
    }
  });
  legend(1105, 702, 20, 'box');
})();
</script>
</body>
</html>
